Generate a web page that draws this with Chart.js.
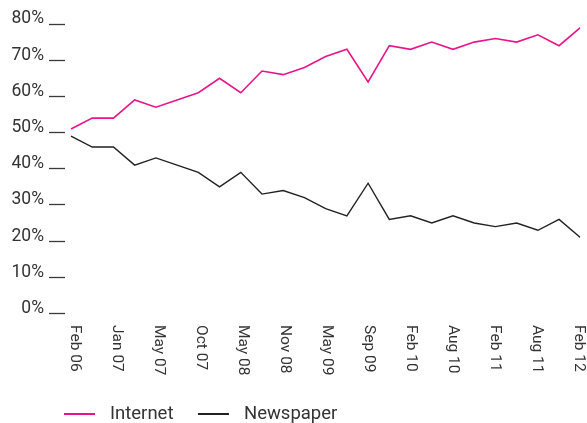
<!DOCTYPE html>
<html>
<head>
<meta charset="utf-8">
<script src="https://cdn.jsdelivr.net/npm/chart.js@4.4.1/dist/chart.umd.min.js"></script>
<style>
  html, body { margin: 0; padding: 0; background: #ffffff; }
  #wrap { width: 587px; height: 423px; }
</style>
</head>
<body>
<div id="wrap"><canvas id="c" width="587" height="423"></canvas></div>
<script>
// ---- data ----
const categories = ['Feb 06', '', 'Jan 07', '', 'May 07', '', 'Oct 07', '', 'May 08', '', 'Nov 08', '',
  'May 09', '', 'Sep 09', '', 'Feb 10', '', 'Aug 10', '', 'Feb 11', '', 'Aug 11', '', 'Feb 12'];
const internet  = [51, 54, 54, 59, 57, 59, 61, 65, 61, 67, 66, 68, 71, 73, 64, 74, 73, 75, 73, 75, 76, 75, 77, 74, 79];
const newspaper = [49, 46, 46, 41, 43, 41, 39, 35, 39, 33, 34, 32, 29, 27, 36, 26, 27, 25, 27, 25, 24, 25, 23, 26, 21];
const yTicks = [0, 10, 20, 30, 40, 50, 60, 70, 80];
const seriesNames = ['Internet', 'Newspaper'];

// ---- styles ----
const PINK = '#e6168a';
const DARK = '#222222';
const TEXT = '#333333';
const FONT = 'Roboto, "Liberation Sans", sans-serif';

const toPoints = arr => arr.map((v, i) => ({ x: i, y: v }));

// Rotated (top-to-bottom) category labels drawn at the x scale's positions
const xLabelPlugin = {
  id: 'xLabels',
  afterDraw(chart) {
    const xs = chart.scales.x;
    const ctx = chart.ctx;
    const n = categories.length - 1;
    ctx.save();
    ctx.font = '15.5px ' + FONT;
    ctx.fillStyle = TEXT;
    ctx.textAlign = 'left';
    ctx.textBaseline = 'middle';
    categories.forEach((lab, i) => {
      if (!lab) return;
      const shift = 3.5 - 4.5 * (i / n);
      const px = xs.getPixelForValue(i) + shift;
      ctx.save();
      ctx.translate(px, chart.chartArea.bottom + 11.5);
      ctx.rotate(Math.PI / 2);
      ctx.fillText(lab, 0, 0);
      ctx.restore();
    });
    ctx.restore();
  }
};

// Legend: short line sample followed by series name
const legendPlugin = {
  id: 'lineLegend',
  afterDraw(chart) {
    const ctx = chart.ctx;
    ctx.save();
    ctx.font = '18.5px ' + FONT;
    ctx.textAlign = 'left';
    ctx.textBaseline = 'middle';
    let x = 64;
    const y = 414;
    chart.data.datasets.forEach(ds => {
      ctx.strokeStyle = ds.borderColor;
      ctx.lineWidth = 2;
      ctx.beginPath();
      ctx.moveTo(x, y);
      ctx.lineTo(x + 31, y);
      ctx.stroke();
      ctx.fillStyle = TEXT;
      ctx.fillText(ds.label, x + 46, y);
      x += 46 + ctx.measureText(ds.label).width + 24.5;
    });
    ctx.restore();
  }
};

new Chart(document.getElementById('c'), {
  type: 'line',
  data: {
    datasets: [
      { label: seriesNames[0], data: toPoints(internet), borderColor: PINK, backgroundColor: PINK,
        borderWidth: 1.6, pointRadius: 0, tension: 0, fill: false },
      { label: seriesNames[1], data: toPoints(newspaper), borderColor: DARK, backgroundColor: DARK,
        borderWidth: 1.4, pointRadius: 0, tension: 0, fill: false }
    ]
  },
  options: {
    responsive: false,
    animation: false,
    devicePixelRatio: 1,
    layout: { padding: { left: 10, right: 6.7, top: 24, bottom: 109.5 } },
    plugins: { legend: { display: false }, tooltip: { enabled: false } },
    scales: {
      x: {
        type: 'linear',
        min: -0.283,
        max: categories.length - 1,
        display: false
      },
      y: {
        min: yTicks[0],
        max: yTicks[yTicks.length - 1],
        afterFit: s => { s.width = 55; },
        afterBuildTicks: s => { s.ticks = yTicks.map(v => ({ value: v })); },
        border: { display: false },
        grid: {
          drawOnChartArea: false,
          drawTicks: true,
          tickLength: 16,
          tickColor: '#3a3a3a',
          tickWidth: 1.3
        },
        ticks: {
          padding: 5,
          labelOffset: -5,
          color: TEXT,
          font: { family: FONT, size: 17.5 },
          callback: v => v + '%'
        }
      }
    }
  },
  plugins: [xLabelPlugin, legendPlugin]
});
</script>
</body>
</html>
